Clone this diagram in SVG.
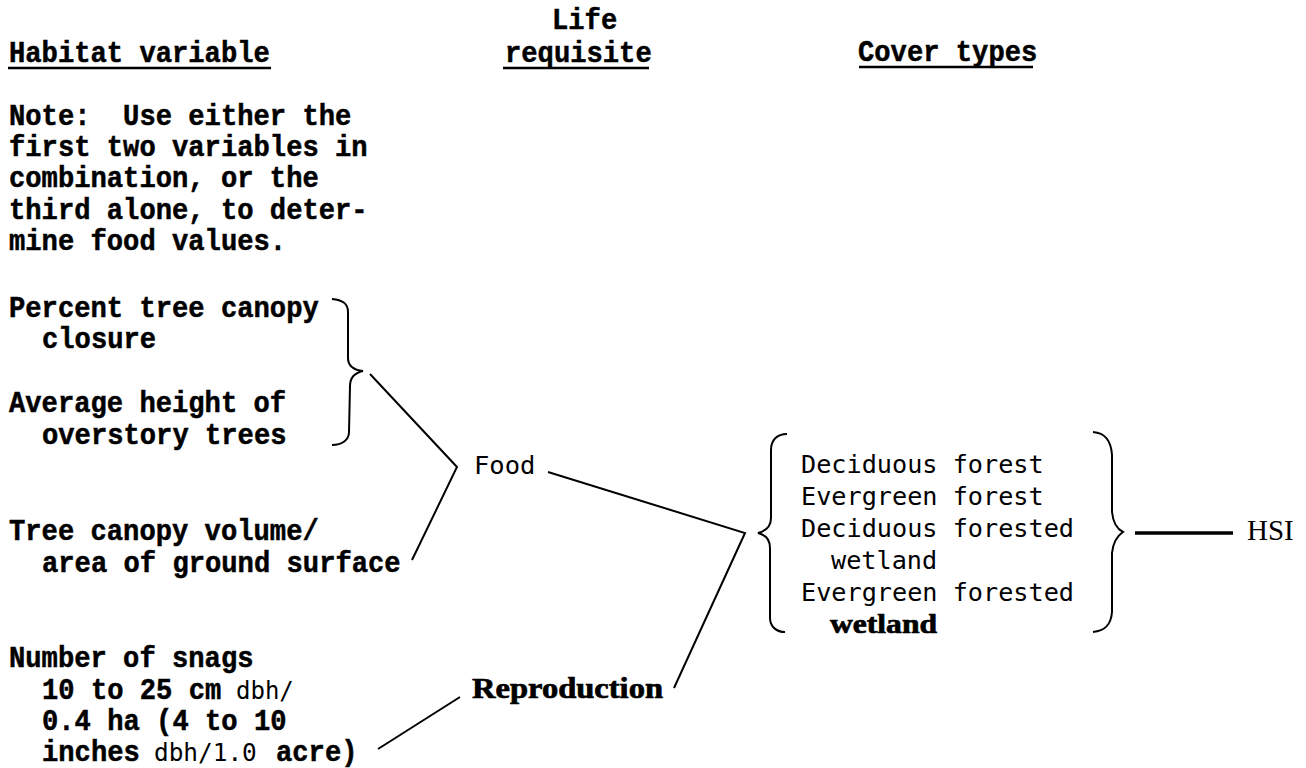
<svg xmlns="http://www.w3.org/2000/svg" width="1306" height="768" viewBox="0 0 1306 768">
<style>
.b{font-family:"Liberation Mono","Courier New",monospace;font-weight:bold;font-size:29px;fill:#000;stroke:#000;stroke-width:0.5}
.t{font-family:"DejaVu Sans Mono","Liberation Mono",monospace;font-weight:normal;fill:#000}
.s{font-family:"Liberation Serif","Times New Roman",serif;fill:#000}
.ln{fill:none;stroke:#000;stroke-width:2;stroke-linejoin:miter;stroke-linecap:butt}
.ul{stroke:#000;stroke-width:2.6}
</style>
<rect width="1306" height="768" fill="#fff"/>
<g id="headers">
<text class="b" transform="translate(9,62) scale(0.937,1)">Habitat variable</text>
<line class="ul" x1="8" y1="68" x2="271" y2="68"/>
<text class="b" transform="translate(552,29) scale(0.937,1)">Life</text>
<text class="b" transform="translate(505,62) scale(0.937,1)">requisite</text>
<line class="ul" x1="503" y1="68" x2="649" y2="68"/>
<text class="b" transform="translate(858,61) scale(0.937,1)">Cover types</text>
<line class="ul" x1="859" y1="67" x2="1033" y2="67"/>
</g>
<g id="note">
<text class="b" transform="translate(9,125) scale(0.937,1)" xml:space="preserve">Note:  Use either the</text>
<text class="b" transform="translate(9,156) scale(0.937,1)">first two variables in</text>
<text class="b" transform="translate(9,187) scale(0.937,1)">combination, or the</text>
<text class="b" transform="translate(9,219) scale(0.937,1)">third alone, to deter-</text>
<text class="b" transform="translate(9,250) scale(0.937,1)">mine food values.</text>
</g>
<g id="var-canopy-closure">
<text class="b" transform="translate(9,317) scale(0.937,1)">Percent tree canopy</text>
<text class="b" transform="translate(42,348) scale(0.937,1)">closure</text>
</g>
<g id="var-tree-height">
<text class="b" transform="translate(9,412) scale(0.937,1)">Average height of</text>
<text class="b" transform="translate(42,444) scale(0.937,1)">overstory trees</text>
</g>
<g id="var-canopy-volume">
<text class="b" transform="translate(9,540) scale(0.937,1)">Tree canopy volume/</text>
<text class="b" transform="translate(42,572) scale(0.937,1)">area of ground surface</text>
</g>
<g id="var-snags">
<text class="b" transform="translate(9,667) scale(0.937,1)">Number of snags</text>
<text class="b" transform="translate(42,699) scale(0.937,1)">10 to 25 cm</text>
<text class="t" x="236" y="699" font-size="24">dbh/</text>
<text class="b" transform="translate(42,730) scale(0.937,1)">0.4 ha (4 to 10</text>
<text class="b" transform="translate(42,761) scale(0.937,1)">inches</text>
<text class="t" x="154" y="761" font-size="24.4">dbh/1.0</text>
<text class="b" transform="translate(276,761) scale(0.937,1)">acre)</text>
</g>
<g id="req-food">
<text class="t" x="474" y="474" font-size="25.5">Food</text>
</g>
<g id="req-reproduction">
<text class="s" x="472" y="698" font-size="29" font-weight="bold" stroke="#000" stroke-width="0.7" textLength="191" lengthAdjust="spacingAndGlyphs">Reproduction</text>
</g>
<g id="cover-types">
<text class="t" x="801" y="473" font-size="25.2">Deciduous forest</text>
<text class="t" x="801" y="505" font-size="25.2">Evergreen forest</text>
<text class="t" x="801" y="537" font-size="25.2">Deciduous forested</text>
<text class="t" x="831" y="569" font-size="25.2">wetland</text>
<text class="t" x="801" y="601" font-size="25.2">Evergreen forested</text>
<text class="s" x="830" y="633" font-size="27" font-weight="bold" stroke="#000" stroke-width="0.7" textLength="107" lengthAdjust="spacingAndGlyphs">wetland</text>
</g>
<g id="hsi">
<text class="s" x="1247" y="540" font-size="29">HSI</text>
</g>
<g id="connectors">
<path class="ln" d="M332,299 C342,300 348,303 348,312 L348,358 C348,366 354,370 363,371 C354,373 350,378 350,386 L349,432 C349,440 342,445 332,445"/>
<path class="ln" d="M370,374 L457,467 L412,560"/>
<path class="ln" d="M548,472 L745,533 L674,688"/>
<path class="ln" d="M460,697 L378,749"/>
<path class="ln" d="M787,434 C777,434 771,440 771,450 L771,518 C771,527 766,531 758,533 C766,535 770,540 770,548 L770,618 C770,627 777,632 785,632"/>
<path class="ln" d="M1093,432 C1105,433 1111,440 1112,455 L1112,512 C1113,522 1117,529 1123,532 C1117,536 1113,543 1112,553 L1112,612 C1111,625 1105,631 1093,632"/>
<line x1="1135" y1="533" x2="1233" y2="533" stroke="#000" stroke-width="3.5"/>
</g>
</svg>
